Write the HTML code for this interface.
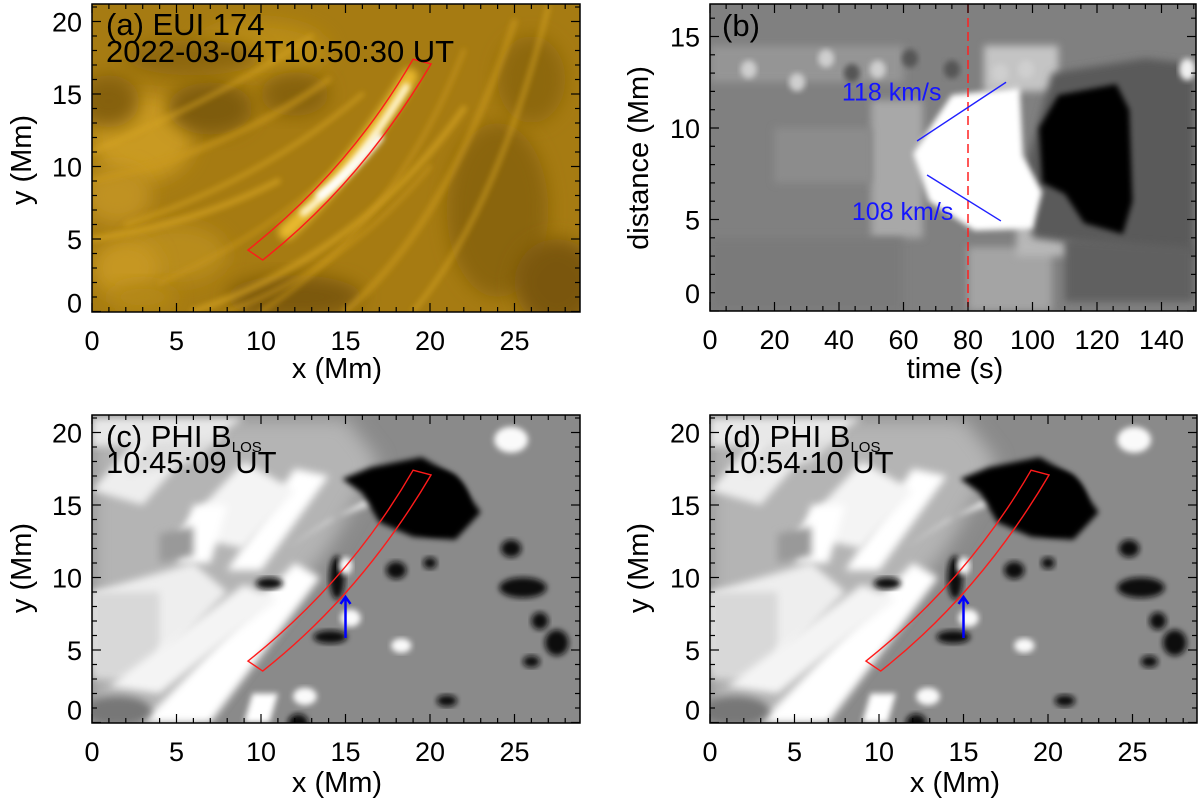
<!DOCTYPE html>
<html><head><meta charset="utf-8">
<style>
html,body{margin:0;padding:0;background:#fff;}
svg{display:block;font-family:"Liberation Sans",sans-serif;}
</style></head>
<body>
<svg id="solarfig" width="1200" height="805" viewBox="0 0 1200 805" xmlns="http://www.w3.org/2000/svg">
<defs id="solardefs">
<filter id="bl" x="-20%" y="-20%" width="140%" height="140%"><feGaussianBlur stdDeviation="4"/></filter>
<filter id="bl2" x="-20%" y="-20%" width="140%" height="140%"><feGaussianBlur stdDeviation="3"/></filter>
<filter id="bl8" x="-30%" y="-30%" width="160%" height="160%"><feGaussianBlur stdDeviation="9"/></filter>
</defs>
</svg>
<script>
var mmTicks = [0,5,10,15,20];
var mmXTicks = [0,5,10,15,20,25];
var timeTicks = [0,20,40,60,80,100,120,140];
var distTicks = [0,5,10,15];
var redLineTime = 80;
var fit118 = [[64.2,9.29],[91.8,12.5]];
var fit108 = [[67.3,7.43],[90.2,4.92]];
var speedLabels = ["118 km/s","108 km/s"];
var speedLabelPos = [[40.9,11.5],[44,4.97]];
var boxOuter = [[9.23,4.24],[15.22,9.78],[19.0,17.4]];
var boxInner = [[10.1,3.55],[15.92,8.89],[20.06,17.07]];
var arrowX = [15,15];
var arrowY = [5.83,8.66];

(function(){
var XNS="http://www.w3.org/2000/svg";
var root=document.getElementById('solarfig');
var defsEl=document.getElementById('solardefs');
function mk(tag,attrs,parent){var e=document.createElementNS(XNS,tag);for(var k in attrs)e.setAttribute(k,attrs[k]);(parent||root).appendChild(e);return e;}

function makePanel(id,L,R,T,B,x0px,xScale,y0px,yScale){
  var p={L:L,R:R,T:T,B:B,xScale:xScale,yScale:yScale};
  p.sx=function(v){return x0px+v*xScale;};
  p.sy=function(v){return y0px-v*yScale;};
  var cp=mk('clipPath',{id:'clip'+id},defsEl);
  mk('rect',{x:L,y:T,width:R-L,height:B-T},cp);
  p.g=mk('g',{'clip-path':'url(#clip'+id+')'});
  
  
  return p;
}
function poly(p,pts,fill,filt,op){
  var e=mk('polygon',{points:pts.map(function(q){return p.sx(q[0])+','+p.sy(q[1]);}).join(' '),fill:fill},p.g);
  if(filt)e.setAttribute('filter','url(#'+filt+')');
  if(op)e.setAttribute('opacity',op);return e;
}
function ell(p,cx,cy,rx,ry,fill,filt,op){
  var e=mk('ellipse',{cx:p.sx(cx),cy:p.sy(cy),rx:rx*p.xScale,ry:ry*p.yScale,fill:fill},p.g);
  if(filt)e.setAttribute('filter','url(#'+filt+')');
  if(op)e.setAttribute('opacity',op);return e;
}
function curve(p,pts,stroke,w,filt,op){
  var d='M'+p.sx(pts[0][0])+' '+p.sy(pts[0][1])+' Q'+p.sx(pts[1][0])+' '+p.sy(pts[1][1])+' '+p.sx(pts[2][0])+' '+p.sy(pts[2][1]);
  var e=mk('path',{d:d,stroke:stroke,'stroke-width':w,fill:'none','stroke-linecap':'round'},p.g);
  if(filt)e.setAttribute('filter','url(#'+filt+')');
  if(op)e.setAttribute('opacity',op);return e;
}
function isMajor(arr,v){for(var i=0;i<arr.length;i++){if(Math.abs(arr[i]-v)<1e-6)return true;}return false;}
function frame(p,name,xt,xminor,xmaxv,yt,yminor,ymaxv,firstYShift){
  var g=mk('g',{});
  
  
  mk('rect',{x:p.L,y:p.T,width:p.R-p.L,height:p.B-p.T,fill:'none',stroke:'#000','stroke-width':1.5},g);
  var v,x,y,l;
  for(v=0;v<=xmaxv+1e-6;v+=xminor){x=p.sx(v);if(x<p.L-0.5||x>p.R+0.5)continue;l=isMajor(xt,v)?9:5;
    mk('line',{x1:x,x2:x,y1:p.B,y2:p.B-l,stroke:'#000','stroke-width':1.2},g);mk('line',{x1:x,x2:x,y1:p.T,y2:p.T+l,stroke:'#000','stroke-width':1.2},g);}
  for(v=0;v<=ymaxv+1e-6;v+=yminor){y=p.sy(v);if(y<p.T-0.5||y>p.B+0.5)continue;l=isMajor(yt,v)?9:5;
    mk('line',{x1:p.L,x2:p.L+l,y1:y,y2:y,stroke:'#000','stroke-width':1.2},g);mk('line',{x1:p.R,x2:p.R-l,y1:y,y2:y,stroke:'#000','stroke-width':1.2},g);}
  xt.forEach(function(v){var t=mk('text',{x:p.sx(v),y:p.B+38,'font-size':27,'text-anchor':'middle'},g);t.textContent=String(v);
    
    });
  yt.forEach(function(v,i){var t=mk('text',{x:p.L-10,y:p.sy(v)+10-(i===0?firstYShift:0),'font-size':27,'text-anchor':'end'},g);t.textContent=String(v);
    
    });
  return g;
}
function txt(str,x,y,size,fill,name,extra){var a={x:x,y:y,'font-size':size,fill:fill||'#000'};if(extra){for(var k in extra)a[k]=extra[k];}
  var t=mk('text',a);t.textContent=str;
  
  
  return t;}
function drawBox(p,name){
  var g=mk('g',{});
  
  
  function f(q){return p.sx(q[0])+' '+p.sy(q[1]);}
  var d='M'+f(boxOuter[0])+' Q'+f(boxOuter[1])+' '+f(boxOuter[2])+' L'+f(boxInner[2])+' Q'+f(boxInner[1])+' '+f(boxInner[0])+' Z';
  mk('path',{d:d,fill:'none',stroke:'#ff1a1a','stroke-width':1.4},g);
}
function drawArrow(p,name){
  var g=mk('g',{});
  
  
  var x=p.sx(arrowX[0]),y1=p.sy(arrowY[0]),y2=p.sy(arrowY[1]);
  mk('line',{x1:x,x2:x,y1:y1,y2:y2+1,stroke:'#0000ff','stroke-width':2.5},g);
  mk('polyline',{points:(x-5)+','+(y2+7)+' '+x+','+y2+' '+(x+5)+','+(y2+7),fill:'none',stroke:'#0000ff','stroke-width':2.5},g);
}

// ---- panel a ----
try{
var pa=makePanel('a',92,580,4,312,92,16.9,311.5,14.5);
mk('rect',{x:92,y:4,width:488,height:308,fill:'#a67b12'},pa.g);
[[3,12,3,3,'#c99a22'],[1.5,8,2,2,'#c09220'],[5,4,3,2,'#b88c1c'],[2,3,2,2,'#c69722'],[10,18,4,2,'#b98c18'],
 [7,14,2.5,1.8,'#7e5b0b'],[1,14.5,1.8,1.8,'#85600c'],[12,15,2,1.5,'#86620d'],[12,1,4,1.5,'#7c590b'],
 [24,7,3,6,'#8a650f'],[27.5,2,2.5,3,'#7a570a'],[26,16,2,3,'#8d6810'],[6,17.5,4,1.2,'#8c660e'],[3,1,2,1,'#b48818']
].forEach(function(e){ell(pa,e[0],e[1],e[2],e[3],e[4],'bl8');});
[[[0,9],[8,11],[14,16]],[[2,6],[10,9],[16,15]],[[4,2],[12,6],[17,13]],[[6,0],[16,4],[22,14]],[[10,0],[18,6],[22,18]],
 [[0,11],[8,15],[13,19]],[[15,0],[21,6],[25,20]],[[19,0],[24,7],[27,21]],[[8,0],[15,3],[20,10]],[[0,5],[6,6],[11,9]]
].forEach(function(c,i){curve(pa,c,i%2?'#d6a422':'#c9981d',i%3?4:6,'bl2',0.7);});
curve(pa,[[11.5,5.5],[15,9.2],[18.8,16.2]],'#f0c030',16,'bl',0.9);
curve(pa,[[12.5,6.8],[15.3,9.3],[18.6,15.5]],'#fff6d0',7,'bl2',1);
curve(pa,[[13.5,8],[15.2,9.4],[17,12]],'#ffffff',8,'bl2',1);
drawBox(pa,'loop-box-a');
frame(pa,'panel-a',mmXTicks,1,29,mmTicks,1,21,9);
txt('(a) EUI 174',106,35,31,'#000','panel-a-title');
txt('2022-03-04T10:50:30 UT',106,62,31,'#000','panel-a-time');
txt('x (Mm)',337,378,29,'#000','x-axis-title-a',{'text-anchor':'middle'});
txt('y (Mm)',0,0,29,'#000','y-axis-title-a',{'text-anchor':'middle',transform:'translate(31,160) rotate(-90)'});
}catch(err){}

// ---- panel b ----
try{
var pb=makePanel('b',710,1196,4,311,710,3.225,311,18.3);
mk('rect',{x:710,y:4,width:486,height:307,fill:'#808080'},pb.g);
[[[[0,12.5],[60,12.5],[60,14.5],[0,14.5]],'#959595'],[[[50,4],[66,4],[66,11.5],[50,11.5]],'#a8a8a8'],
 [[[20,7],[50,7],[50,10],[20,10]],'#8c8c8c'],[[[0,0],[60,0],[60,4],[0,4]],'#7a7a7a'],
 [[[80,0],[106,0],[106,3.5],[80,3.5]],'#a4a4a4'],[[[85,12],[108,12],[108,14.5],[85,14.5]],'#c4c4c4'],
 [[[95,3],[112,3],[112,6],[95,6]],'#b8b8b8']
].forEach(function(r){poly(pb,r[0],r[1],'bl');});
[[12,13.2],[27,12.5],[36,13.8],[52,13.2],[98,13.2],[90,13]].forEach(function(q){ell(pb,q[0],q[1],2.5,0.5,'#cfcfcf','bl2');});
[[75,13.2],[62,13.8],[44,13]].forEach(function(q){ell(pb,q[0],q[1],2.5,0.5,'#555','bl2');});
poly(pb,[[100,4],[142,3],[150,3],[150,13.5],[135,13.8],[106,13],[98,8]],'#5a5a5a','bl');
poly(pb,[[110,0.5],[150,0.5],[150,3.5],[110,4]],'#606060','bl');
poly(pb,[[75,11.8],[96,12.2],[97,8.5],[103,6.5],[100,4.5],[82,4.4],[68,6],[63,8.6],[70,10.5]],'#ffffff','bl2');
poly(pb,[[108,11.8],[126,12.4],[130,11],[131,6],[128,4.2],[116,4.8],[110,6.4],[103,7],[102,10]],'#000000','bl2');
ell(pb,148,13.2,2.5,0.6,'#f0f0f0','bl2');
var rl=mk('line',{x1:pb.sx(redLineTime),x2:pb.sx(redLineTime),y1:4,y2:311,stroke:'#ff2020','stroke-width':1.5,'stroke-dasharray':'9,5'});


[fit118,fit108].forEach(function(f){var l=mk('line',{x1:pb.sx(f[0][0]),y1:pb.sy(f[0][1]),x2:pb.sx(f[1][0]),y2:pb.sy(f[1][1]),stroke:'#2020ff','stroke-width':1.4});
  
  });
speedLabels.forEach(function(s,i){txt(s,pb.sx(speedLabelPos[i][0]),pb.sy(speedLabelPos[i][1]),25,'#1515ff','speed-label');});
frame(pb,'panel-b',timeTicks,5,150,distTicks,1,17,18);
txt('(b)',722,36,31,'#000','panel-b-title');
txt('time (s)',955,378,29,'#000','x-axis-title-b',{'text-anchor':'middle'});
txt('distance (Mm)',0,0,29,'#000','y-axis-title-b',{'text-anchor':'middle',transform:'translate(648,158) rotate(-90)'});
}catch(err){}

// ---- panels c, d ----
function phi(id,L,R,x0,shift){
  var p=makePanel(id,L,R,415,723,x0,16.9,722.5,14.5);
  mk('rect',{x:L,y:415,width:R-L,height:308,fill:'#8a8a8a'},p.g);
  poly(p,[[0,0],[6,0],[14,12],[17,18],[15,21],[0,21]],'#b4b4b4','bl8');
  poly(p,[[0,4],[3,3],[8,9],[6,11],[0,9]],'#eeeeee','bl');
  poly(p,[[0,9],[4,9],[4,3],[0,3]],'#d8d8d8','bl');
  poly(p,[[3,0],[7,0],[13.5,10],[12,11]],'#ffffff','bl');
  poly(p,[[1,2.5],[4,2],[11,8.5],[9,9.5]],'#f4f4f4','bl');
  poly(p,[[9,0],[10.5,0],[11,2],[9.5,2]],'#ffffff','bl2');
  poly(p,[[8,10.5],[10,10.5],[14,17],[12,17.5]],'#ffffff','bl');
  poly(p,[[5,13],[9,12],[12,16],[9,18]],'#f4f4f4','bl');
  poly(p,[[5,11],[7,11],[8,15],[6,15]],'#ffffff','bl');
  poly(p,[[0,16],[3,15],[6,19],[3,20]],'#eeeeee','bl');
  poly(p,[[2,17],[6,18],[8,20],[4,20.5]],'#dddddd','bl');
  poly(p,[[0,19],[7,19.5],[9,21],[0,21]],'#e8e8e8','bl');
  poly(p,[[11.5,12],[14,14],[18,15.5],[17,16]],'#dddddd','bl2');
  poly(p,[[4,13],[6,13.5],[6,11.5],[4,11]],'#999','bl');
  ell(p,1.5,0.8,2,1,'#777','bl');
  poly(p,[[16.5,17.6],[19.5,18.3],[21.5,17],[23,14.5],[21.5,12.6],[19,12.8],[17,13.8],[16,15.8],[14.8,16.8]],'#000','bl2');
  ell(p,20.3,15.2,2,2.2,'#000','bl2');
  [[14.5,10,0.45,1.5],[14.1+shift,5.9,1,0.45],[10.5,9.6,0.8,0.4],[25.5,9.3,1.4,0.7],[26.5,7,0.5,0.6],[27.5,5.5,0.7,0.9],
   [18,10.5,0.6,0.6],[24.8,12,0.6,0.6],[26,4.2,0.5,0.4],[21,1.5,0.6,0.4],[12.2,0,0.6,0.6],[20,11,0.4,0.4]].forEach(function(e){ell(p,e[0],e[1],e[2],e[3],'#111','bl2');});
  [[24.8+shift,19.5,1,0.9],[15.3,7.2,0.6,0.6],[18.3+shift,5.3,0.6,0.5],[12.6+shift,1.8,0.7,0.6],[15,10.8,0.4,0.6]].forEach(function(e){ell(p,e[0],e[1],e[2],e[3],'#fafafa','bl2');});
  drawBox(p,'loop-box-'+id);
  drawArrow(p,'flow-arrow-'+id);
  frame(p,'panel-'+id,mmXTicks,1,29,mmTicks,1,21,13);
  return p;
}
function phiTitle(letter,x,time){
  var t=txt('('+letter+') PHI B',x,447,31,'#000','panel-'+letter+'-title');
  var s=mk('tspan',{'font-size':15,dy:5},t);s.textContent='LOS';
  txt(time,x,473,31,'#000','panel-'+letter+'-time');
}
try{
phi('c',92,580,92,0);
phiTitle('c',106,'10:45:09 UT');
txt('x (Mm)',337,792,29,'#000','x-axis-title-c',{'text-anchor':'middle'});
txt('y (Mm)',0,0,29,'#000','y-axis-title-c',{'text-anchor':'middle',transform:'translate(31,568) rotate(-90)'});
}catch(err){}
try{
phi('d',710,1197,710,0.3);
phiTitle('d',723,'10:54:10 UT');
txt('x (Mm)',955,792,29,'#000','x-axis-title-d',{'text-anchor':'middle'});
txt('y (Mm)',0,0,29,'#000','y-axis-title-d',{'text-anchor':'middle',transform:'translate(648,568) rotate(-90)'});
}catch(err){}
})();
</script>
</body></html>
